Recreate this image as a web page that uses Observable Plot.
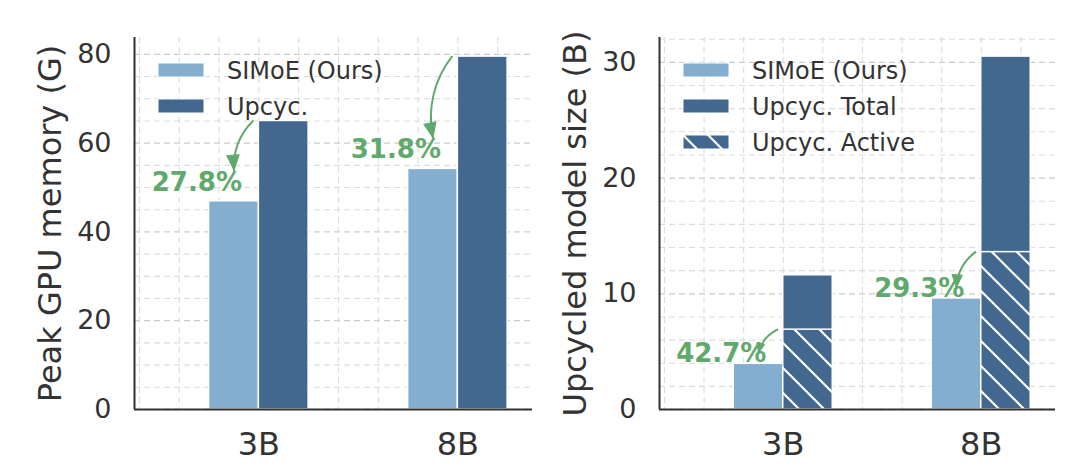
<!DOCTYPE html>
<html>
<head>
<meta charset="utf-8">
<script src="https://cdn.jsdelivr.net/npm/d3@7"></script>
<script src="https://cdn.jsdelivr.net/npm/@observablehq/plot@0.6"></script>
<style>
  html, body { margin: 0; padding: 0; background: #fff; }
  #wrap { position: relative; width: 1080px; height: 468px; display: flex; font-family: "DejaVu Sans", sans-serif; }
  .panel { position: relative; }
  .leg { position: absolute; font-size: 24px; line-height: 24px; color: #333; white-space: nowrap; }
</style>
</head>
<body>
<svg width="0" height="0" style="position:absolute">
  <defs>
    <pattern id="hatch" patternUnits="userSpaceOnUse" width="25" height="25">
      <rect width="25" height="25" fill="#42688f"></rect>
      <path d="M0,0L25,25M-3,22L3,28M22,-3L28,3" stroke="#fff" stroke-width="2.2"></path>
    </pattern>
  </defs>
</svg>
<div id="wrap"></div>
<script>
// ---------------- data ----------------
const cats = ["3B", "8B"];
const memSimoe = [46.9, 54.2];
const memUpcyc = [65.0, 79.5];
const memLabels = ["27.8%", "31.8%"];

const sizeSimoe = [3.95, 9.6];
const sizeActive = [6.9, 13.6];
const sizeTotal = [11.6, 30.5];
const sizeLabels = ["42.7%", "29.3%"];

const memTicks = [0, 20, 40, 60, 80];
const memGrid = [5, 10, 15, 25, 30, 35, 45, 50, 55, 65, 70, 75];
const sizeTicks = [0, 10, 20, 30];
const sizeGrid = [2, 4, 6, 8, 12, 14, 16, 18, 22, 24, 26, 28, 32];
const xGrid = [-0.6, -0.4, -0.2, 0, 0.2, 0.4, 0.6, 0.8, 1.0, 1.2];

const memYLabel = "Peak GPU memory (G)";
const sizeYLabel = "Upcycled model size (B)";
const legendLeft = ["SIMoE (Ours)", "Upcyc."];
const legendRight = ["SIMoE (Ours)", "Upcyc. Total", "Upcyc. Active"];

// ---------------- style ----------------
const light = "#83aed0";
const dark = "#42688f";
const green = "#5ea96b";
const ink = "#333333";
const xDomain = [-0.625, 1.375];
const gridMinor = {stroke: "#dcdcdc", strokeDasharray: "6,4", strokeWidth: 1.1};
const gridMajor = {stroke: "#cccccc", strokeDasharray: "6,4", strokeWidth: 1.3};

const memRows = cats.map((c, i) => ({i, c, simoe: memSimoe[i], upcyc: memUpcyc[i], label: memLabels[i]}));
const sizeRows = cats.map((c, i) => ({i, c, simoe: sizeSimoe[i], active: sizeActive[i], total: sizeTotal[i], label: sizeLabels[i]}));

function common(yTicks, yGrid, label) {
  return {
    before: [
      Plot.ruleY(yGrid, gridMinor),
      Plot.ruleY(yTicks, gridMajor),
      Plot.ruleX(xGrid, gridMinor)
    ],
    after: [
      Plot.ruleY([0], {stroke: ink, strokeWidth: 2}),
      Plot.ruleX([xDomain[0]], {stroke: ink, strokeWidth: 2}),
      Plot.axisY(yTicks, {tickSize: 0, tickPadding: 23, fontSize: 27, label: null, fill: ink}),
      Plot.axisX([0, 1], {tickSize: 0, tickPadding: 23, fontSize: 32, label: null, tickFormat: i => cats[i], fill: ink}),
      Plot.text([label], {frameAnchor: "left", textAnchor: "middle", lineAnchor: "middle", rotate: -90, dx: -84, fontSize: 32, text: d => d, fill: ink})
    ]
  };
}

const c1 = common(memTicks, memGrid, memYLabel);
const left = Plot.plot({
  width: 540, height: 468,
  marginLeft: 134, marginRight: 8, marginTop: 37, marginBottom: 59,
  style: {fontFamily: "DejaVu Sans", color: ink, background: "#fff", overflow: "visible"},
  x: {domain: xDomain},
  y: {domain: [0, 83.8]},
  marks: [
    ...c1.before,
    Plot.rectY(memRows, {x1: d => d.i - 0.25, x2: d => d.i, y: "simoe", fill: light, stroke: "#fff", strokeWidth: 1.5}),
    Plot.rectY(memRows, {x1: d => d.i, x2: d => d.i + 0.25, y: "upcyc", fill: dark, stroke: "#fff", strokeWidth: 1.5}),
    ...c1.after,
    Plot.arrow(memRows, {x1: d => d.i - 0.03, y1: "upcyc", x2: d => d.i - 0.125, y2: d => d.simoe + 7, bend: -25, stroke: green, strokeWidth: 2, headLength: 12, headAngle: 45}),
    Plot.text(memRows, {x: "i", y: "simoe", text: "label", dx: -62, dy: -19, fill: green, fontWeight: "bold", fontSize: 26})
  ]
});

const c2 = common(sizeTicks, sizeGrid, sizeYLabel);
const right = Plot.plot({
  width: 540, height: 468,
  marginLeft: 119, marginRight: 25, marginTop: 37, marginBottom: 59,
  style: {fontFamily: "DejaVu Sans", color: ink, background: "#fff", overflow: "visible"},
  x: {domain: xDomain},
  y: {domain: [0, 32.15]},
  marks: [
    ...c2.before,
    Plot.rectY(sizeRows, {x1: d => d.i - 0.25, x2: d => d.i, y: "simoe", fill: light, stroke: "#fff", strokeWidth: 1.5}),
    Plot.rectY(sizeRows, {x1: d => d.i, x2: d => d.i + 0.25, y: "total", fill: dark, stroke: "#fff", strokeWidth: 1.5}),
    Plot.rectY(sizeRows, {x1: d => d.i, x2: d => d.i + 0.25, y: "active", fill: "url(#hatch)", stroke: "#fff", strokeWidth: 1.5}),
    ...c2.after,
    Plot.arrow(sizeRows, {x1: d => d.i - 0.03, y1: "active", x2: d => d.i - 0.125, y2: d => d.simoe + 0.95, bend: -25, stroke: green, strokeWidth: 2, headLength: 11, headAngle: 45}),
    Plot.text(sizeRows, {x: "i", y: "simoe", text: "label", dx: -62, dy: -10, fill: green, fontWeight: "bold", fontSize: 26})
  ]
});

// turn Plot's open arrow wings into filled heads
function fillHeads(chart) {
  chart.querySelectorAll('g[aria-label="arrow"] path').forEach(p => {
    const d = p.getAttribute("d");
    const k = d.indexOf("M", 1);
    if (k < 0) return;
    const arc = d.slice(0, k), head = d.slice(k);
    p.setAttribute("d", arc);
    const h = document.createElementNS("http://www.w3.org/2000/svg", "path");
    h.setAttribute("d", head + "Z");
    h.setAttribute("fill", green);
    h.setAttribute("stroke", green);
    h.setAttribute("stroke-width", "1");
    h.setAttribute("stroke-linejoin", "miter");
    p.parentNode.appendChild(h);
  });
}
fillHeads(left);
fillHeads(right);

const wrap = document.getElementById("wrap");
function panel(chart, labels, fills, patchX, textX) {
  const p = document.createElement("div");
  p.className = "panel";
  p.appendChild(chart);
  labels.forEach((lab, k) => {
    const top = 63 + k * 36;
    const s = document.createElementNS("http://www.w3.org/2000/svg", "svg");
    s.setAttribute("width", 48); s.setAttribute("height", 16);
    s.style.position = "absolute"; s.style.left = patchX + "px"; s.style.top = (top - 1) + "px";
    s.innerHTML = `<rect x="1" y="1" width="46" height="14" fill="${fills[k]}" stroke="#fff" stroke-width="1"></rect>`;
    p.appendChild(s);
    const t = document.createElement("div");
    t.className = "leg";
    t.style.left = textX + "px"; t.style.top = (top + 7 - 11.5) + "px";
    t.textContent = lab;
    p.appendChild(t);
  });
  wrap.appendChild(p);
}
panel(left, legendLeft, [light, dark], 157, 227);
panel(right, legendRight, [light, dark, "url(#hatch)"], 142, 212);
</script>
</body>
</html>
